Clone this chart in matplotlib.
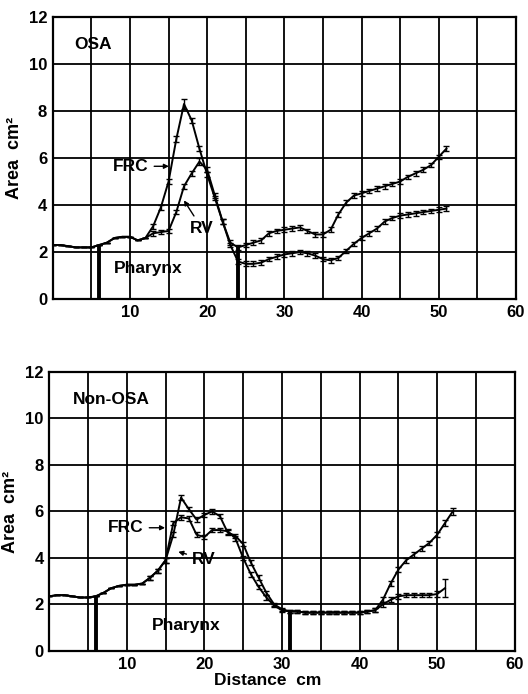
import numpy as np
import matplotlib
matplotlib.use("Agg")
import matplotlib.pyplot as plt

plt.rcParams['font.family'] = ['Liberation Sans', 'DejaVu Sans']

# ---- OSA panel (top) ----
top_x = list(range(0, 52))
top_frc = [2.3, 2.3, 2.25, 2.2, 2.2, 2.2, 2.3, 2.4, 2.6, 2.65, 2.65, 2.5, 2.6,
           3.1, 3.9, 5.0, 6.8, 8.3, 7.6, 6.4, 5.3, 4.3, 3.3, 2.4,
           2.2, 2.3, 2.4, 2.5, 2.8, 2.9, 2.95, 3.0, 3.05, 2.9, 2.75, 2.75, 2.95,
           3.6, 4.1, 4.4, 4.5, 4.6, 4.7, 4.8, 4.9, 5.0, 5.2, 5.35, 5.5, 5.7, 6.05, 6.4]
top_rv = [2.3, 2.3, 2.25, 2.2, 2.2, 2.2, 2.3, 2.4, 2.6, 2.65, 2.65, 2.5, 2.6,
          2.8, 2.85, 2.9, 3.7, 4.8, 5.35, 5.85, 5.5, 4.4, 3.3, 2.3,
          1.6, 1.5, 1.5, 1.55, 1.7, 1.8, 1.9, 1.95, 2.0, 1.95, 1.85, 1.7, 1.65,
          1.75, 2.05, 2.35, 2.6, 2.8, 3.0, 3.3, 3.45, 3.55, 3.6, 3.65, 3.7, 3.75, 3.8, 3.85]
top_frc_err = [0, 0, 0, 0, 0, 0, 0, 0, 0, 0, 0, 0, 0,
               0.1, 0.1, 0.1, 0.12, 0.2, 0.12, 0.1, 0.1, 0.1, 0.1, 0.1,
               0.1, 0.1, 0.1, 0.1, 0.1, 0.1, 0.1, 0.1, 0.1, 0.1, 0.1, 0.1, 0.1,
               0.1, 0.1, 0.1, 0.1, 0.1, 0.1, 0.1, 0.1, 0.1, 0.1, 0.1, 0.1, 0.1, 0.1, 0.12]
top_rv_err = [0, 0, 0, 0, 0, 0, 0, 0, 0, 0, 0, 0, 0,
              0.1, 0.1, 0.1, 0.1, 0.1, 0.1, 0.15, 0.1, 0.1, 0.1, 0.1,
              0.1, 0.1, 0.1, 0.1, 0.1, 0.1, 0.1, 0.1, 0.1, 0.1, 0.1, 0.1, 0.1,
              0.1, 0.1, 0.1, 0.1, 0.1, 0.1, 0.1, 0.1, 0.1, 0.1, 0.1, 0.1, 0.1, 0.1, 0.1]
top_pharynx_x = [6.0, 24.0]
top_pharynx_h = [2.3, 2.2]

# ---- Non-OSA panel (bottom) ----
bot_frc_x = list(range(0, 53))
bot_frc = [2.35, 2.4, 2.4, 2.35, 2.3, 2.3, 2.35, 2.5, 2.7, 2.8, 2.85, 2.85, 2.9,
           3.15, 3.45, 3.9, 5.0, 6.6, 6.1, 5.65, 5.85, 6.0, 5.8, 5.1, 4.95, 4.6,
           3.8, 3.15, 2.5, 2.0, 1.8, 1.7, 1.7, 1.65, 1.65, 1.65, 1.65, 1.65, 1.65,
           1.65, 1.65, 1.7, 1.75, 2.2, 2.9, 3.5, 3.9, 4.15, 4.4, 4.65, 5.0, 5.5, 6.0]
bot_rv_x = list(range(0, 52))
bot_rv = [2.35, 2.4, 2.4, 2.35, 2.3, 2.3, 2.35, 2.5, 2.7, 2.8, 2.85, 2.85, 2.9,
          3.15, 3.45, 3.9, 5.5, 5.75, 5.7, 5.0, 4.9, 5.2, 5.2, 5.15, 4.85, 4.0,
          3.3, 2.75, 2.3, 1.95, 1.75, 1.7, 1.7, 1.65, 1.65, 1.65, 1.65, 1.65, 1.65,
          1.65, 1.65, 1.7, 1.75, 2.0, 2.2, 2.35, 2.4, 2.4, 2.4, 2.4, 2.45, 2.7]
bot_frc_err = [0, 0, 0, 0, 0, 0, 0, 0, 0, 0, 0, 0, 0,
               0.08, 0.08, 0.1, 0.1, 0.12, 0.1, 0.1, 0.1, 0.1, 0.1, 0.1, 0.1, 0.1,
               0.1, 0.1, 0.1, 0.08, 0.06, 0.06, 0.06, 0.06, 0.06, 0.06, 0.06, 0.06, 0.06,
               0.06, 0.06, 0.06, 0.08, 0.1, 0.1, 0.1, 0.1, 0.1, 0.1, 0.1, 0.1, 0.12, 0.15]
bot_rv_err = [0, 0, 0, 0, 0, 0, 0, 0, 0, 0, 0, 0, 0,
              0.08, 0.08, 0.1, 0.1, 0.1, 0.1, 0.1, 0.1, 0.1, 0.1, 0.1, 0.1, 0.1,
              0.1, 0.1, 0.1, 0.08, 0.06, 0.06, 0.06, 0.06, 0.06, 0.06, 0.06, 0.06, 0.06,
              0.06, 0.06, 0.06, 0.08, 0.1, 0.1, 0.1, 0.1, 0.1, 0.1, 0.1, 0.12, 0.4]
bot_pharynx_x = [6.0, 31.0]
bot_pharynx_h = [2.35, 1.7]

x_ticks = [10, 20, 30, 40, 50, 60]
y_ticks = [0, 2, 4, 6, 8, 10, 12]


def style_axes(ax):
    ax.set_xlim(0, 60)
    ax.set_ylim(0, 12)
    ax.set_xticks(x_ticks)
    ax.set_yticks(y_ticks)
    ax.set_xticks(np.arange(5, 60, 5), minor=True)
    ax.tick_params(which='both', length=0, labelsize=12, pad=4)
    for lab in ax.get_xticklabels() + ax.get_yticklabels():
        lab.set_fontweight('bold')
    ax.grid(which='both', axis='x', color='black', lw=1.3)
    ax.grid(which='major', axis='y', color='black', lw=1.3)
    for sp in ax.spines.values():
        sp.set_linewidth(1.6)
    ax.set_ylabel("Area  cm²", fontsize=13, fontweight='bold', labelpad=4)


def draw_panel(ax, fx, fy, fe, rx, ry, re, ph_x, ph_h):
    ax.errorbar(rx, ry, yerr=re, color='black', lw=1.4, capsize=2,
                elinewidth=1, capthick=1, zorder=3)
    ax.errorbar(fx, fy, yerr=fe, color='black', lw=1.4, capsize=2,
                elinewidth=1, capthick=1, zorder=3)
    ax.vlines(ph_x, 0, ph_h, color='black', lw=2.8, zorder=4)


fig = plt.figure(figsize=(5.28, 6.94), dpi=100)
ax1 = fig.add_axes([0.100, 0.569, 0.877, 0.4065])
ax2 = fig.add_axes([0.093, 0.062, 0.882, 0.402])

draw_panel(ax1, top_x, top_frc, top_frc_err, top_x, top_rv, top_rv_err,
           top_pharynx_x, top_pharynx_h)
style_axes(ax1)
ax1.text(2.8, 10.85, "OSA", fontsize=12.5, fontweight='bold', va='center')
ax1.text(12.4, 1.3, "Pharynx", fontsize=12.5, fontweight='bold', ha='center', va='center')
ax1.annotate("FRC", xy=(15.4, 5.65), xytext=(7.8, 5.65), fontsize=12.5,
             fontweight='bold', va='center',
             arrowprops=dict(arrowstyle='-|>', color='black', lw=1, mutation_scale=7))
ax1.annotate("RV", xy=(16.8, 4.3), xytext=(17.8, 3.0), fontsize=12.5,
             fontweight='bold', va='center',
             arrowprops=dict(arrowstyle='-|>', color='black', lw=1, mutation_scale=7))

draw_panel(ax2, bot_frc_x, bot_frc, bot_frc_err, bot_rv_x, bot_rv, bot_rv_err,
           bot_pharynx_x, bot_pharynx_h)
style_axes(ax2)
ax2.text(3.0, 10.8, "Non-OSA", fontsize=12.5, fontweight='bold', va='center')
ax2.text(17.6, 1.1, "Pharynx", fontsize=12.5, fontweight='bold', ha='center', va='center')
ax2.annotate("FRC", xy=(15.3, 5.3), xytext=(7.6, 5.3), fontsize=12.5,
             fontweight='bold', va='center',
             arrowprops=dict(arrowstyle='-|>', color='black', lw=1, mutation_scale=7))
ax2.annotate("RV", xy=(16.3, 4.3), xytext=(18.4, 3.95), fontsize=12.5,
             fontweight='bold', va='center',
             arrowprops=dict(arrowstyle='-|>', color='black', lw=1, mutation_scale=7))
ax2.set_xlabel("Distance  cm", fontsize=12.5, fontweight='bold')
ax2.xaxis.set_label_coords(0.47, -0.08)

fig.savefig("out.png", dpi=100)
